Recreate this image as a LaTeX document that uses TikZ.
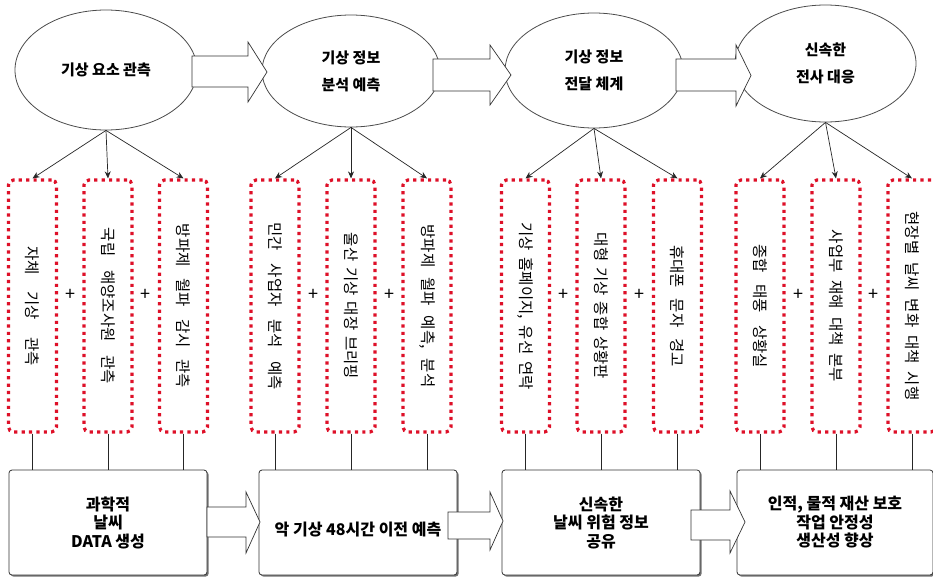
\documentclass[tikz,border=0pt]{standalone}
\usepackage{fontspec}
\usepackage{graphicx}
\setmainfont{Noto Sans CJK KR}
\usetikzlibrary{shapes.geometric,shadows,arrows.meta}
\definecolor{dotred}{RGB}{222,16,40}
\newcommand{\gp}[1]{\hspace{#1pt}}
\begin{document}
\begin{tikzpicture}[x=1pt,y=-1pt,
 ell/.style={ellipse, draw=black!70, line width=0.8pt, fill=white, inner sep=0pt, align=center,
   font=\bfseries\fontsize{15}{27}\selectfont},
 dbox/.style={draw=dotred, line width=3.2pt, dash pattern=on 3.2pt off 4.2pt, rounded corners=5pt,
   minimum width=48pt, minimum height=252pt, inner sep=0pt, font=\fontsize{15.5}{18}\selectfont, text=black},
 res/.style={draw=black!80, line width=0.8pt, fill=white, rounded corners=3pt,
   drop shadow={shadow xshift=1.6pt, shadow yshift=-1.6pt, fill=black!55, opacity=1},
   minimum width=198pt, minimum height=105pt, inner sep=0pt, align=center,
   font=\bfseries\fontsize{16}{18.5}\selectfont},
 blk/.style={draw=black!80, line width=0.7pt, fill=white, line join=miter},
 con/.style={-{Stealth[length=7pt,width=6pt]}, line width=0.7pt, black!85},
 lnk/.style={line width=0.7pt, black!85},
 plus/.style={font=\fontsize{18}{18}\selectfont, inner sep=0pt}
]
\useasboundingbox (0,0) rectangle (933,576);
\fill[white] (0,0) rectangle (933,576);

% ellipses
\node[ell, minimum width=182pt, minimum height=120pt] (e1) at (106,70) {기상 요소 관측};
\node[ell, minimum width=178pt, minimum height=112pt] (e2) at (351,71) {기상 정보\\분석 예측};
\node[ell, minimum width=178pt, minimum height=115pt] (e3) at (594,70.5) {기상 정보\\전달 체계};
\node[ell, minimum width=181pt, minimum height=117pt] (e4) at (825.5,63.5) {신속한\\전사 대응};

% top block arrows
\draw[blk] (192,56) -- (248,56) -- (248,42) -- (267,72) -- (248,102) -- (248,87) -- (192,87) -- cycle;
\draw[blk] (433,59) -- (490,59) -- (490,45) -- (511,75) -- (490,105) -- (490,91) -- (433,91) -- cycle;
\draw[blk] (676,59) -- (736,59) -- (736,45) -- (751,75.5) -- (736,106) -- (736,91) -- (676,91) -- cycle;

% dotted boxes
\node[dbox] (b1) at (32.5,306) {\rotatebox{-90}{자체\gp{17}기상\gp{17}관측}};
\node[dbox] (b2) at (108,306) {\rotatebox{-90}{국립\gp{14}해양조사원\gp{14}관측}};
\node[dbox] (b3) at (183.5,306) {\rotatebox{-90}{방파제\gp{12}월파\gp{12}감시\gp{12}관측}};
\node[dbox] (b4) at (275,306) {\rotatebox{-90}{민간\gp{13}사업자\gp{13}분석\gp{13}예측}};
\node[dbox] (b5) at (351,306) {\rotatebox{-90}{울산\gp{6}기상\gp{6}대장\gp{6}브리핑}};
\node[dbox] (b6) at (427,306) {\rotatebox{-90}{방파제\gp{10}월파\gp{10}예측,\gp{10}분석}};
\node[dbox] (b7) at (525.5,306) {\rotatebox{-90}{기상\gp{7}홈페이지,\gp{7}유선\gp{7}연락}};
\node[dbox] (b8) at (601,306) {\rotatebox{-90}{대형\gp{6}기상\gp{6}종합\gp{6}상황판}};
\node[dbox] (b9) at (677.5,306) {\rotatebox{-90}{휴대폰\gp{11}문자\gp{11}경고}};
\node[dbox] (b10) at (760,306) {\rotatebox{-90}{종합\gp{12}태풍\gp{12}상황실}};
\node[dbox] (b11) at (836,306) {\rotatebox{-90}{사업부\gp{8}재해\gp{8}대책\gp{8}본부}};
\node[dbox] (b12) at (912,306) {\rotatebox{-90}{현장별\gp{8}날씨\gp{8}변화\gp{8}대책\gp{8}시행}};

% plus signs
\node[plus] (p1) at (70,295) {+};
\node[plus] (p2) at (145.5,295) {+};
\node[plus] (p3) at (313,295) {+};
\node[plus] (p4) at (389,295) {+};
\node[plus] (p5) at (563.5,295) {+};
\node[plus] (p6) at (639,295) {+};
\node[plus] (p7) at (798,295) {+};
\node[plus] (p8) at (873.5,295) {+};

% arrows from ellipses
\foreach \e/\a/\b/\c in {e1/b1/b2/b3, e2/b4/b5/b6, e3/b7/b8/b9, e4/b10/b11/b12}{
  \draw[con] (\e.south) -- (\a.north);
  \draw[con] (\e.south) -- (\b.north);
  \draw[con] (\e.south) -- (\c.north);
}

% bottom rectangles
\node[res] (r1) at (108,522.5) {과학적\\날씨\\DATA 생성};
\node[res] (r2) at (358,522.5) {\raisebox{-13pt}[0pt][0pt]{악 기상 48시간 이전 예측}};
\node[res] (r3) at (601,522.5) {신속한\\날씨 위험 정보\\공유};
\node[res, minimum width=196pt] (r4) at (835,522.5) {인적, 물적 재산 보호\\작업 안정성\\생산성 향상};

% links from boxes to rectangles
\foreach \b/\r in {b1/r1,b2/r1,b3/r1,b4/r2,b5/r2,b6/r2,b7/r3,b8/r3,b9/r3,b10/r4,b11/r4,b12/r4}{
  \draw[lnk] (\b.south) -- (\b.south |- \r.north);
}

% bottom block arrows
\draw[blk] (207,507) -- (246,507) -- (246,492) -- (260,522) -- (246,553) -- (246,537) -- (207,537) -- cycle;
\draw[blk] (448,512) -- (490,512) -- (490,492) -- (503,521) -- (490,550) -- (490,539) -- (448,539) -- cycle;
\draw[blk] (691,510) -- (730,510) -- (730,491) -- (745,522) -- (730,553) -- (730,540) -- (691,540) -- cycle;
\end{tikzpicture}
\end{document}
